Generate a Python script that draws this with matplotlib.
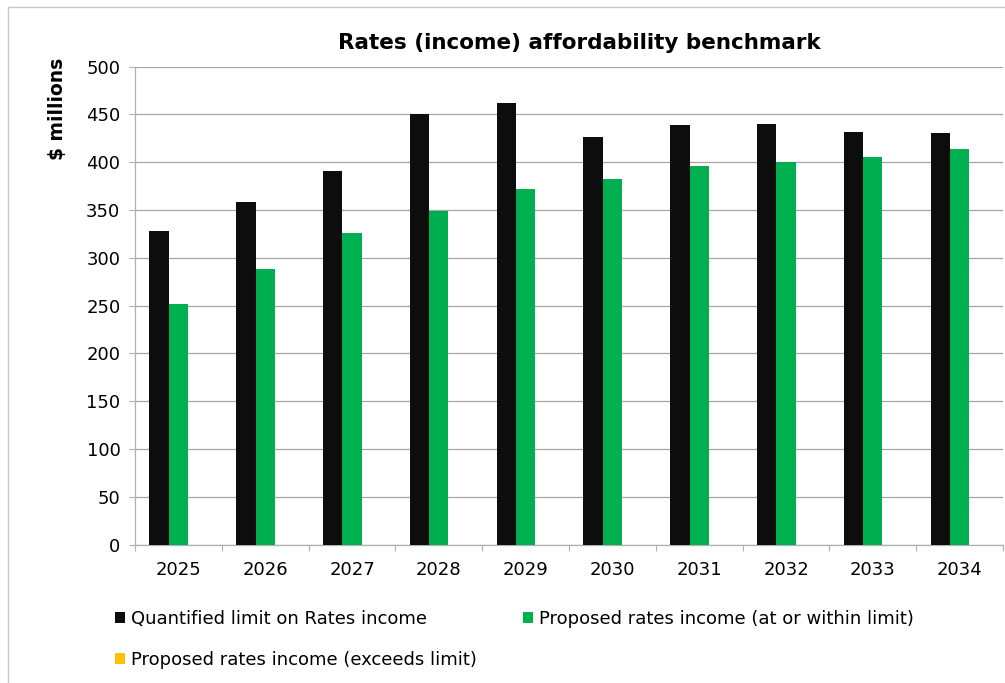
import matplotlib
matplotlib.use("Agg")
import matplotlib.pyplot as plt
from matplotlib.patches import Rectangle
import numpy as np

years = ["2025", "2026", "2027", "2028", "2029", "2030", "2031", "2032", "2033", "2034"]
limit_values = [328, 358, 391, 450, 462, 426, 439, 440, 432, 431]
within_values = [252, 288, 326, 349, 372, 383, 396, 400, 406, 414]
exceeds_values = [0, 0, 0, 0, 0, 0, 0, 0, 0, 0]
y_ticks = [0, 50, 100, 150, 200, 250, 300, 350, 400, 450, 500]

series_labels = [
    "Quantified limit on Rates income",
    "Proposed rates income (at or within limit)",
    "Proposed rates income (exceeds limit)",
]
colors = ["#0d0d0d", "#00b050", "#ffc000"]

plt.rcParams["font.family"] = ["DejaVu Sans"]

W, H = 1005, 683
fig = plt.figure(figsize=(W / 100, H / 100), dpi=100)

# outer chart frame
fig.patches.append(Rectangle((8 / W, -0.05), 1.2, 1 - 7 / H + 0.05,
                             transform=fig.transFigure, fill=False,
                             edgecolor="#c8c8c8", linewidth=1.0))

ax = fig.add_axes([135 / W, 1 - 544.5 / H, (1003 - 135) / W, (544.5 - 66.7) / H])

x = np.arange(len(years))
bw = 1 / 4.5
series = [limit_values, within_values, exceeds_values]
bars = []
for i, (vals, col) in enumerate(zip(series, colors)):
    b = ax.bar(x + (i - 1) * bw, vals, width=bw, color=col, zorder=3,
               label=series_labels[i])
    bars.append(b)

ax.set_xlim(-0.5, len(years) - 0.5)
ax.set_ylim(0, 500)
ax.set_yticks(y_ticks)
ax.set_yticklabels([str(v) for v in y_ticks], fontsize=13)
ax.set_xticks(x)
ax.set_xticklabels(years, fontsize=13)
ax.set_xticks(np.arange(-0.5, len(years)), minor=True)
ax.tick_params(axis="x", which="major", length=0, pad=12)
ax.tick_params(axis="x", which="minor", length=4.5, color="#b0b0b0", width=0.8, direction="out")
ax.tick_params(axis="y", length=4.5, color="#b0b0b0", width=0.8, pad=6)

ax.yaxis.grid(True, color="#a6a6a6", linewidth=0.9, zorder=0)
ax.set_axisbelow(True)
for s in ["top", "right"]:
    ax.spines[s].set_visible(False)
for s in ["left", "bottom"]:
    ax.spines[s].set_color("#b0b0b0")
    ax.spines[s].set_linewidth(0.9)

fig.text(579 / W, 1 - 43 / H, "Rates (income) affordability benchmark",
         ha="center", va="center", fontsize=15.5, fontweight="bold")
fig.text(57 / W, 1 - 109 / H, "$ millions", rotation=90, ha="center", va="center",
         fontsize=13.5, fontweight="bold")

handles = [bars[0], bars[2], bars[1]]
labels = [series_labels[0], series_labels[2], series_labels[1]]
fig.legend(handles, labels, ncol=2, loc="upper left",
           bbox_to_anchor=(115 / W, 1 - 610 / H), frameon=False, fontsize=13,
           handlelength=0.55, handleheight=0.55, handletextpad=0.35,
           columnspacing=2.55, labelspacing=1.25, borderaxespad=0, borderpad=0)

fig.savefig("out.png", dpi=100)
